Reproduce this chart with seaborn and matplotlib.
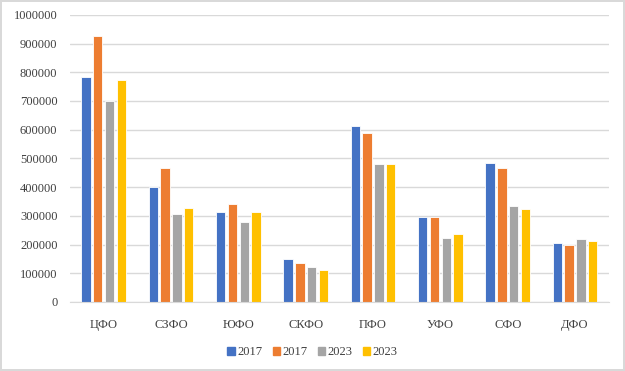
import pandas as pd
import matplotlib
matplotlib.use("Agg")
import matplotlib.pyplot as plt
from matplotlib.ticker import StrMethodFormatter
import seaborn as sns

regions = ["ЦФО", "СЗФО", "ЮФО", "СКФО", "ПФО", "УФО", "СФО", "ДФО"]
series_names = ["2017", "2017", "2023", "2023"]
s1 = [785000, 402000, 313000, 151000, 614000, 295000, 484000, 206000]
s2 = [927000, 465000, 340000, 136000, 590000, 297000, 465000, 197000]
s3 = [700000, 305000, 280000, 122000, 482000, 222000, 333000, 219000]
s4 = [773000, 327000, 313000, 113000, 481000, 238000, 323000, 214000]
colors = ["#4472C4", "#ED7D31", "#A5A5A5", "#FFC000"]

rows = []
for k, vals in enumerate([s1, s2, s3, s4]):
    for r, v in zip(regions, vals):
        rows.append({"region": r, "series": "s%d" % k, "value": v})
df = pd.DataFrame(rows)

sns.set_style("white")
plt.rcParams["font.family"] = ["Liberation Serif", "DejaVu Serif"]

fig = plt.figure(figsize=(6.25, 3.71), dpi=100)
ax = fig.add_axes([0.112, 0.186, 0.862, 0.774])

sns.barplot(data=df, x="region", y="value", hue="series", order=regions,
            hue_order=["s0", "s1", "s2", "s3"], palette=colors, saturation=1,
            width=0.7, ax=ax, edgecolor="white", linewidth=0.6, legend=False)

# small gaps between bars of a group
for p in ax.patches:
    w = p.get_width()
    p.set_width(w * 0.8)
    p.set_x(p.get_x() + w * 0.1)

ax.set_ylim(0, 1000000)
ax.set_yticks(range(0, 1000001, 100000))
ax.yaxis.set_major_formatter(StrMethodFormatter("{x:.0f}"))
ax.grid(axis="y", color="#d9d9d9", linewidth=1)
ax.set_axisbelow(True)
for s in ["top", "right", "left"]:
    ax.spines[s].set_visible(False)
ax.spines["bottom"].set_color("#d9d9d9")
ax.tick_params(axis="both", length=0, labelsize=9, labelcolor="#404040")
ax.tick_params(axis="x", pad=12)
ax.tick_params(axis="y", pad=9)
ax.set_xlabel("")
ax.set_ylabel("")
ax.set_xlim(-0.5, len(regions) - 0.5)

handles = [plt.Rectangle((0, 0), 1, 1, color=c) for c in colors]
fig.legend(handles, series_names, loc="center", bbox_to_anchor=(0.5, 0.051),
           ncol=4, frameon=False, fontsize=9, handlelength=0.6, handleheight=0.6,
           handletextpad=0.2, columnspacing=0.8, labelcolor="#404040")

fig.patch.set_edgecolor("#d9d9d9")
fig.patch.set_linewidth(1.5)
fig.savefig("out.png", dpi=100, edgecolor=fig.get_edgecolor())
